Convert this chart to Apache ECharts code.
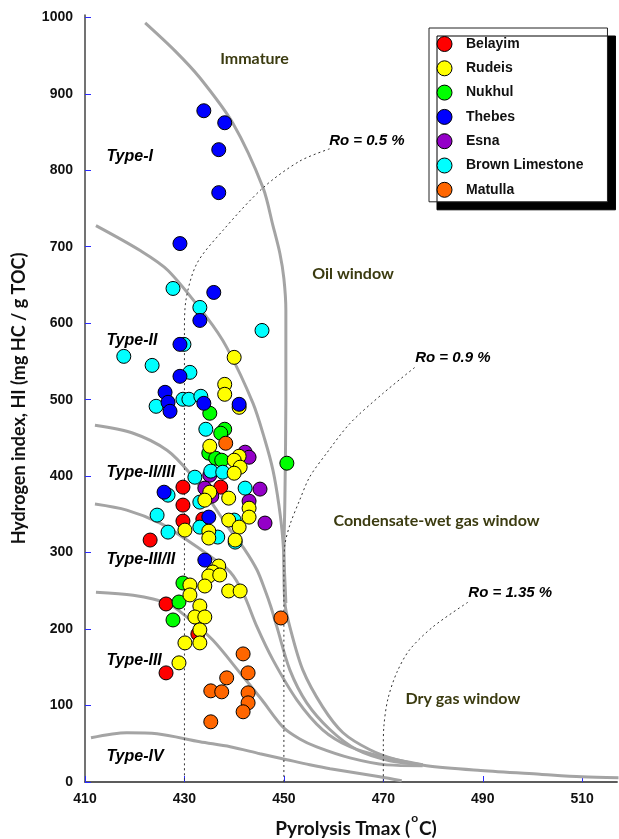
<!DOCTYPE html>
<html>
<head>
<meta charset="utf-8">
<script src="https://cdn.jsdelivr.net/npm/echarts@6/dist/echarts.min.js"></script>
<style>
  html, body { margin: 0; padding: 0; background: #fff; }
  #chart { width: 619px; height: 839px; }
</style>
</head>
<body>
<div id="chart"></div>
<script>
// Rock-Eval pyrolysis samples: [Tmax (°C), HI (mg HC / g TOC)]
const belayim = [
  [429.7, 385.6], [437.3, 385.6], [429.7, 362.1], [429.7, 341.2], [433.7, 343.8],
  [423.1, 316.4], [426.3, 232.8], [426.3, 142.7], [432.7, 193.6]
];
const rudeis = [
  [440.0, 555.3], [438.1, 520.0], [438.1, 507.0], [441.0, 490.0], [435.1, 439.1],
  [441.0, 426.0], [440.0, 420.8], [441.2, 411.7], [440.0, 403.8], [435.1, 379.0],
  [434.1, 368.6], [438.9, 371.2], [443.0, 358.1], [443.0, 346.4], [438.9, 342.5],
  [441.0, 333.3], [430.1, 329.4], [434.9, 328.1], [434.9, 319.0], [440.2, 316.4],
  [436.9, 282.4], [435.7, 274.6], [434.9, 269.4], [437.1, 270.7], [434.1, 256.3],
  [431.1, 257.6], [438.9, 249.8], [441.2, 249.8], [431.1, 244.6], [433.1, 230.2],
  [432.1, 215.8], [434.1, 215.8], [433.1, 198.9], [430.1, 181.9], [433.1, 181.9],
  [428.9, 155.8]
];
const nukhul = [
  [435.1, 482.2], [438.1, 461.3], [437.3, 456.1], [434.9, 430.0], [436.3, 423.4],
  [437.5, 420.8], [450.6, 416.9], [429.7, 260.2], [428.9, 235.4], [427.7, 211.9]
];
const thebes = [
  [433.9, 877.8], [438.1, 862.1], [436.9, 826.9], [436.9, 770.7], [429.1, 704.1],
  [435.9, 640.2], [433.1, 603.6], [429.1, 572.3], [429.1, 530.5], [426.1, 509.6],
  [426.7, 496.5], [427.1, 484.8], [433.9, 495.2], [441.0, 493.9], [425.9, 379.0],
  [434.9, 346.4], [434.1, 290.2]
];
const esna = [
  [442.2, 431.3], [443.0, 424.7], [435.1, 401.2], [434.1, 384.3], [435.5, 373.8],
  [445.2, 383.0], [443.0, 367.3], [446.2, 338.6]
];
const brownLimestone = [
  [427.7, 645.4], [433.1, 620.6], [445.6, 590.5], [429.9, 572.3], [417.8, 556.6],
  [423.5, 544.8], [431.1, 535.7], [424.3, 491.3], [429.7, 500.5], [430.9, 500.5],
  [433.3, 504.4], [434.3, 461.3], [435.3, 406.5], [437.7, 405.1], [432.1, 398.6],
  [426.7, 375.1], [442.2, 384.3], [424.5, 349.0], [426.7, 326.8], [433.1, 333.3],
  [433.1, 366.0], [436.7, 320.3], [440.0, 342.5], [440.2, 313.7]
];
const matulla = [
  [438.3, 443.0], [449.4, 214.5], [441.8, 167.5], [442.8, 142.7], [438.5, 136.2],
  [435.3, 119.2], [437.5, 117.9], [442.8, 116.6], [442.8, 103.5], [441.8, 91.8],
  [435.3, 78.7]
];

// Kerogen-type evolution paths
const typeI = [
  [422.1, 992.7], [428.1, 956.1], [433.1, 920.9], [439.8, 860.8], [445.8, 777.3],
  [447.8, 727.6], [449.2, 691.1], [450.0, 658.4], [450.4, 616.7], [450.4, 499.2],
  [450.2, 368.6], [450.0, 290.2], [450.2, 234.1], [451.2, 202.8], [453.8, 146.6],
  [457.8, 98.3], [461.9, 64.4], [467.3, 42.2], [472.7, 29.1], [478.7, 21.3],
  [489.6, 15.1], [501.5, 10.2], [509.9, 6.9], [517.3, 5.6]
];
const typeII = [
  [412.2, 727.6], [421.1, 695.0], [426.7, 668.9], [434.5, 607.5], [438.5, 568.4],
  [443.8, 495.2], [446.2, 446.9], [447.8, 407.8], [449.0, 362.1], [449.8, 316.4],
  [450.2, 264.2], [450.4, 234.1]
];
const typeIIIII = [
  [412.0, 466.5], [419.7, 456.1], [426.5, 433.9], [431.1, 403.8], [435.1, 368.6],
  [439.2, 329.4], [442.2, 303.3], [444.6, 277.2], [446.2, 251.1], [447.4, 228.9],
  [448.6, 202.8], [451.2, 146.6], [454.6, 103.5], [459.3, 68.3], [464.7, 42.2],
  [471.3, 27.8], [477.9, 22.6]
];
const typeIIIII2 = [
  [412.0, 363.4], [418.4, 355.5], [425.1, 338.5], [430.5, 316.4], [435.1, 295.5],
  [439.2, 274.6], [441.8, 247.2], [444.6, 202.8], [447.8, 159.7], [452.6, 107.5],
  [457.8, 68.3], [463.3, 46.1], [469.9, 33.0], [477.9, 22.6]
];
const typeIII = [
  [412.2, 248.2], [419.7, 244.3], [426.5, 233.8], [430.5, 215.6], [435.7, 185.6],
  [441.2, 142.5], [445.6, 107.2], [449.8, 72.0], [453.2, 56.3], [456.6, 45.9],
  [463.3, 31.5], [470.7, 22.4], [477.9, 21.3]
];
const typeIV = [
  [411.2, 57.8], [418.4, 64.4], [424.5, 63.1], [433.1, 52.6], [439.2, 46.1],
  [445.2, 37.0], [450.6, 29.2], [455.2, 22.6], [459.3, 17.4], [469.3, 6.9],
  [473.7, 1.7]
];

// Vitrinite reflectance iso-lines
const ro05 = [[459.2, 828], [453.2, 812], [445.8, 777], [437.7, 721], [432.5, 678], [430.3, 630], [430, 590], [430, 0]];
const ro09 = [[476.3, 542], [469.9, 508], [463.3, 469], [458.6, 430], [455.2, 399], [453.2, 369], [451.2, 336], [450.2, 310], [450, 277], [450, 0]];
const ro135 = [[487.0, 235], [480.0, 203], [475.3, 173], [472.7, 143], [470.9, 108], [470.1, 72], [470, 46], [470, 0]];

// Annotation anchors
const zoneLabels = [
  { name: 'Immature', value: [444.1, 946] },
  { name: 'Oil window', value: [463.9, 665] },
  { name: 'Condensate-wet gas window', value: [480.7, 342] },
  { name: 'Dry gas window', value: [486.0, 109] }
];
const typeLabels = [
  { name: 'Type-I', value: [414.2, 818] },
  { name: 'Type-II', value: [414.2, 577] },
  { name: 'Type-II/III', value: [414.2, 404] },
  { name: 'Type-III/II', value: [414.2, 291] },
  { name: 'Type-III', value: [414.2, 159] },
  { name: 'Type-IV', value: [414.2, 33] }
];
const roLabels = [
  { name: 'Ro = 0.5 %', value: [459.0, 839] },
  { name: 'Ro = 0.9 %', value: [476.3, 554] },
  { name: 'Ro = 1.35 %', value: [487.0, 247] }
];

const xTicks = [410, 430, 450, 470, 490, 510];

const formations = [
  { name: 'Belayim', data: belayim, color: '#ff0000', z: 3 },
  { name: 'Rudeis', data: rudeis, color: '#ffff00', z: 8 },
  { name: 'Nukhul', data: nukhul, color: '#00ff00', z: 5 },
  { name: 'Thebes', data: thebes, color: '#0000ff', z: 9 },
  { name: 'Esna', data: esna, color: '#9400c8', z: 4 },
  { name: 'Brown Limestone', data: brownLimestone, color: '#00ffff', z: 6 },
  { name: 'Matulla', data: matulla, color: '#ff6600', z: 7 }
];

const curveStyle = { color: '#a4a4a4', width: 3 };
const dotStyle = { color: '#333', width: 1, type: [2, 3] };

function curve(data, style, smooth) {
  return {
    type: 'line', data: data, symbol: 'none', showSymbol: false, smooth: smooth,
    lineStyle: style, z: 1, silent: true, animation: false
  };
}

function labelSeries(data, label) {
  return {
    type: 'scatter', data: data, symbolSize: 1, silent: true, z: 10,
    itemStyle: { color: 'rgba(0,0,0,0)', borderWidth: 0, opacity: 1 },
    label: Object.assign({ show: true, formatter: '{b}' }, label)
  };
}

const chart = echarts.init(document.getElementById('chart'));

const series = [
  curve(typeI, curveStyle, 0.3),
  curve(typeII, curveStyle, 0.3),
  curve(typeIIIII, curveStyle, 0.3),
  curve(typeIIIII2, curveStyle, 0.3),
  curve(typeIII, curveStyle, 0.3),
  curve(typeIV, curveStyle, 0.3),
  curve(ro05, dotStyle, 0.3),
  curve(ro09, dotStyle, 0.3),
  curve(ro135, dotStyle, 0.3)
];

formations.forEach(function (f) {
  series.push({
    type: 'scatter', name: f.name, data: f.data, symbolSize: 14, z: f.z,
    itemStyle: { color: f.color, borderColor: '#000', borderWidth: 1, opacity: 1 },
    emphasis: { disabled: true }, animation: false
  });
});

series.push(labelSeries(zoneLabels, {
  position: 'inside', color: '#3b3b10',
  fontFamily: 'Lato', fontWeight: 'bold', fontSize: 16
}));
series.push(labelSeries(typeLabels, {
  position: 'right', distance: 0, color: '#000',
  fontFamily: 'Liberation Sans', fontWeight: 'bold', fontStyle: 'italic', fontSize: 16
}));
series.push(labelSeries(roLabels, {
  position: 'right', distance: 0, color: '#000',
  fontFamily: 'Liberation Sans', fontWeight: 'bold', fontStyle: 'italic', fontSize: 15
}));

const axisFont = { fontFamily: 'Liberation Sans', fontWeight: 'bold', fontSize: 14, color: '#111' };
const titleFont = { fontFamily: 'Lato', fontWeight: 'bold', color: '#111' };

chart.setOption({
  animation: false,
  backgroundColor: '#fff',
  grid: { left: 85, right: 2, top: 15, bottom: 57, containLabel: false, outerBoundsMode: 'none' },
  legend: {
    data: formations.map(function (f) { return f.name; }),
    orient: 'vertical', left: 429, top: 28,
    itemWidth: 15, itemHeight: 15, itemGap: 8.3,
    padding: [8, 24, 4, 7.5],
    backgroundColor: '#fff', borderColor: '#222', borderWidth: 1,
    shadowColor: '#000', shadowOffsetX: 8, shadowOffsetY: 8, shadowBlur: 0,
    icon: 'circle',
    itemStyle: { borderColor: '#000', borderWidth: 1 },
    textStyle: { fontFamily: 'Liberation Sans', fontWeight: 'bold', fontSize: 14, color: '#111', padding: [0, 0, 0, 9] },
    selectedMode: false
  },
  xAxis: [{
    type: 'value', min: 410, max: 517, interval: 20,
    axisLine: { show: true, onZero: false, lineStyle: { color: '#444', width: 1.5 } },
    axisTick: { show: true, inside: true, length: 6, lineStyle: { color: '#2a2aff', width: 1 } },
    axisLabel: Object.assign({
      margin: 10, showMaxLabel: false,
      formatter: function (v) { return xTicks.indexOf(v) >= 0 ? String(v) : ''; }
    }, axisFont),
    splitLine: { show: false },
    name: '{b|Pyrolysis Tmax (}{s|o}{b|C)}',
    nameLocation: 'middle', nameGap: 30,
    nameTextStyle: {
      fontSize: 19, fontFamily: 'Lato', fontWeight: 'bold', color: '#111',
      padding: [0, 0, 0, 10],
      rich: {
        b: Object.assign({ fontSize: 19, lineHeight: 26, verticalAlign: 'bottom' }, titleFont),
        s: Object.assign({ fontSize: 12, lineHeight: 12, verticalAlign: 'top', padding: [0, 1, 0, 1] }, titleFont)
      }
    }
  }, {
    type: 'value', position: 'top', min: 410, max: 517,
    axisLine: { show: true, lineStyle: { color: '#555', width: 1.5 } },
    axisTick: { show: false }, axisLabel: { show: false }, splitLine: { show: false }
  }],
  yAxis: {
    type: 'value', min: 0, max: 1003, interval: 100,
    axisLine: { show: true, onZero: false, lineStyle: { color: '#444', width: 1.5 } },
    axisTick: { show: true, inside: true, length: 6, lineStyle: { color: '#2a2aff', width: 1 } },
    axisLabel: Object.assign({ margin: 12, showMaxLabel: false, formatter: function (v) { return String(v); } }, axisFont),
    splitLine: { show: false },
    name: 'Hydrogen index, HI (mg HC / g TOC)',
    nameLocation: 'middle', nameGap: 57,
    nameTextStyle: Object.assign({ fontSize: 18 }, titleFont)
  },
  series: series
});
</script>
</body>
</html>
